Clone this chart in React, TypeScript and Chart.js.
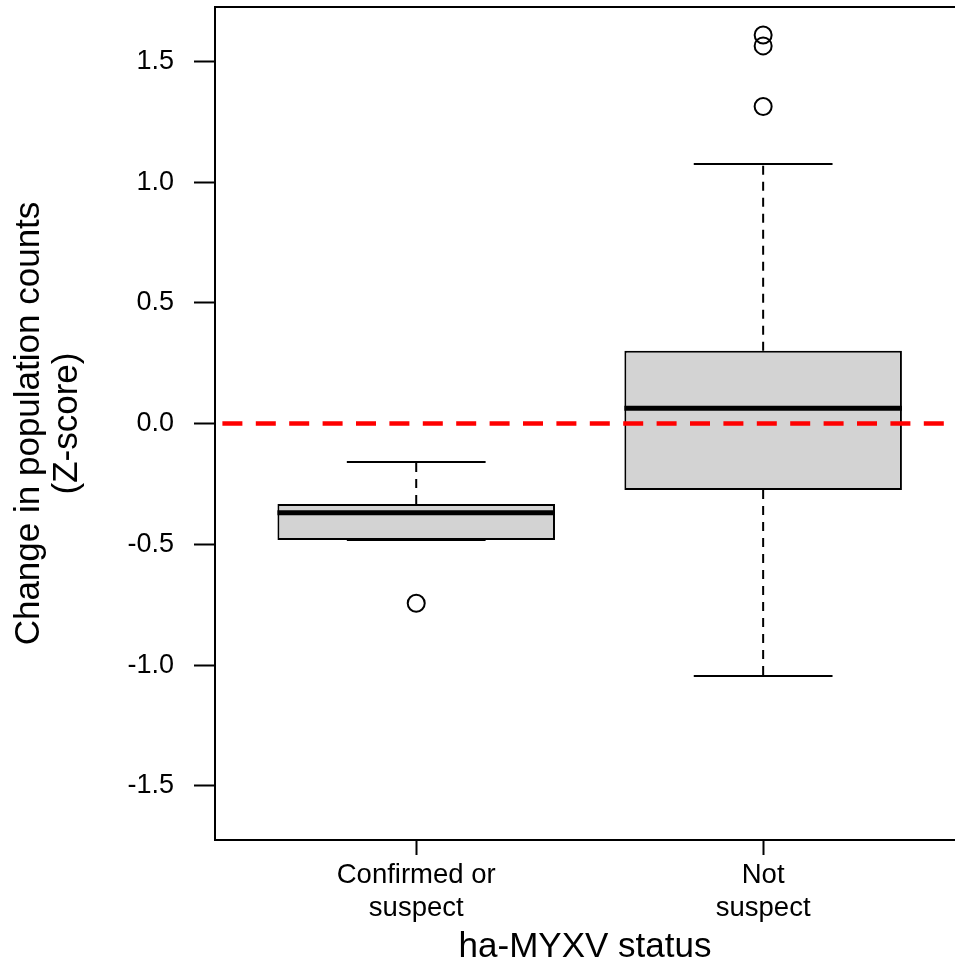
import React, { useEffect, useRef } from "react";
import { Chart, registerables } from "chart.js";

Chart.register(...registerables);

// ---- data ----
const categories: string[][] = [["Confirmed or", "suspect"], ["Not", "suspect"]];
const positions = [1, 2];
const q1 = [-0.482, -0.275];
const median = [-0.369, 0.064];
const q3 = [-0.333, 0.302];
const lowerWhisker = [-0.482, -1.045];
const upperWhisker = [-0.159, 1.075];
const outliers: number[][] = [[-0.744], [1.313, 1.564, 1.609]];
const yTicks = [-1.5, -1.0, -0.5, 0.0, 0.5, 1.0, 1.5];
const referenceY = 0;
const xRange = [0.42, 2.553];
const yRange = [-1.724, 1.725];
const xTitle = "ha-MYXV status";
const yTitle = ["Change in population counts", "(Z-score)"];

const BOX_HALF = 0.4;
const CAP_HALF = 0.2;

export default function App() {
  const ref = useRef<HTMLCanvasElement | null>(null);

  useEffect(() => {
    if (!ref.current) return;
    Chart.defaults.font.family = "'Liberation Sans', Arial, sans-serif";
    Chart.defaults.color = "#000";

    const datasets: any[] = [];

    datasets.push({
      type: "bar",
      data: positions.map((p, i) => ({ x: p, y: [q1[i], q3[i]] })),
      backgroundColor: "#d3d3d3",
      borderColor: "#000",
      borderWidth: 2,
      borderSkipped: false,
      barPercentage: 1,
      categoryPercentage: 0.8,
      order: 10,
    });

    const lineBase = {
      type: "line",
      borderColor: "#000",
      pointRadius: 0,
      fill: false,
      tension: 0,
      borderCapStyle: "butt",
    };

    positions.forEach((p, i) => {
      datasets.push({
        ...lineBase,
        data: [{ x: p, y: q3[i] }, { x: p, y: upperWhisker[i] }],
        borderWidth: 2,
        borderDash: [9, 7],
        order: 8,
      });
      datasets.push({
        ...lineBase,
        data: [{ x: p, y: q1[i] }, { x: p, y: lowerWhisker[i] }],
        borderWidth: 2,
        borderDash: [9, 7],
        order: 8,
      });
      datasets.push({
        ...lineBase,
        data: [{ x: p - CAP_HALF, y: upperWhisker[i] }, { x: p + CAP_HALF, y: upperWhisker[i] }],
        borderWidth: 2,
        order: 7,
      });
      datasets.push({
        ...lineBase,
        data: [{ x: p - CAP_HALF, y: lowerWhisker[i] }, { x: p + CAP_HALF, y: lowerWhisker[i] }],
        borderWidth: 2,
        order: 7,
      });
      datasets.push({
        ...lineBase,
        data: [{ x: p - BOX_HALF, y: median[i] }, { x: p + BOX_HALF, y: median[i] }],
        borderWidth: 5,
        order: 6,
      });
    });

    datasets.push({
      type: "scatter",
      data: positions.flatMap((p, i) => outliers[i].map((v) => ({ x: p, y: v }))),
      pointRadius: 8.5,
      pointBorderWidth: 2,
      pointBackgroundColor: "rgba(0,0,0,0)",
      pointBorderColor: "#000",
      order: 5,
    });

    datasets.push({
      ...lineBase,
      data: [{ x: xRange[0], y: referenceY }, { x: xRange[1], y: referenceY }],
      borderColor: "#ff0000",
      borderWidth: 4.5,
      borderDash: [20, 13.4],
      borderDashOffset: 26,
      order: 1,
    });

    const chart = new Chart(ref.current, {
      type: "bar",
      data: { datasets },
      options: {
        animation: false,
        responsive: false,
        events: [],
        layout: { padding: 0, autoPadding: false },
        plugins: { legend: { display: false }, tooltip: { enabled: false } },
        scales: {
          x: {
            type: "linear",
            position: "bottom",
            min: xRange[0],
            max: xRange[1],
            offset: false,
            afterBuildTicks: (s: any) => {
              s.ticks = positions.map((v) => ({ value: v }));
            },
            afterFit: (s: any) => {
              s.height = 127;
              s.paddingLeft = 0;
              s.paddingRight = 0;
            },
            ticks: {
              autoSkip: false,
              maxRotation: 0,
              padding: 4,
              font: { size: 27.5, lineHeight: 1.2 },
              color: "#000",
              callback: (v: any) => categories[positions.indexOf(Number(v))] ?? "",
            },
            grid: {
              display: true,
              drawOnChartArea: false,
              drawTicks: true,
              tickLength: 15,
              tickWidth: 2,
              tickColor: "#000",
              offset: false,
            },
            border: { display: true, color: "#000", width: 2 },
            title: {
              display: true,
              text: xTitle,
              font: { size: 35, lineHeight: 1.1 },
              color: "#000",
              padding: { top: 0, bottom: 0 },
            },
          },
          xTop: {
            axis: "x",
            type: "linear",
            position: "top",
            min: xRange[0],
            max: xRange[1],
            offset: false,
            ticks: { display: false },
            grid: { display: false, drawTicks: false },
            border: { display: true, color: "#000", width: 2 },
            afterFit: (s: any) => {
              s.height = 7;
              s.paddingLeft = 0;
              s.paddingRight = 0;
            },
          },
          y: {
            type: "linear",
            position: "left",
            min: yRange[0],
            max: yRange[1],
            afterBuildTicks: (s: any) => {
              s.ticks = yTicks.map((v) => ({ value: v }));
            },
            afterFit: (s: any) => {
              s.width = 215;
              s.paddingTop = 0;
              s.paddingBottom = 0;
            },
            ticks: {
              padding: 20,
              font: { size: 27 },
              color: "#000",
              callback: (v: any) => Number(v).toFixed(1),
            },
            grid: {
              display: true,
              drawOnChartArea: false,
              drawTicks: true,
              tickLength: 21,
              tickWidth: 2,
              tickColor: "#000",
            },
            border: { display: true, color: "#000", width: 2 },
            title: {
              display: true,
              text: yTitle,
              font: { size: 35, lineHeight: 1.07 },
              color: "#000",
              padding: { top: 11, bottom: 0 },
            },
          },
        },
      } as any,
    });

    return () => chart.destroy();
  }, []);

  return (
    <div style={{ position: "absolute", left: 0, top: 0, width: 955, height: 967, background: "#fff" }}>
      <canvas ref={ref} width={955} height={967} style={{ display: "block" }} />
    </div>
  );
}
